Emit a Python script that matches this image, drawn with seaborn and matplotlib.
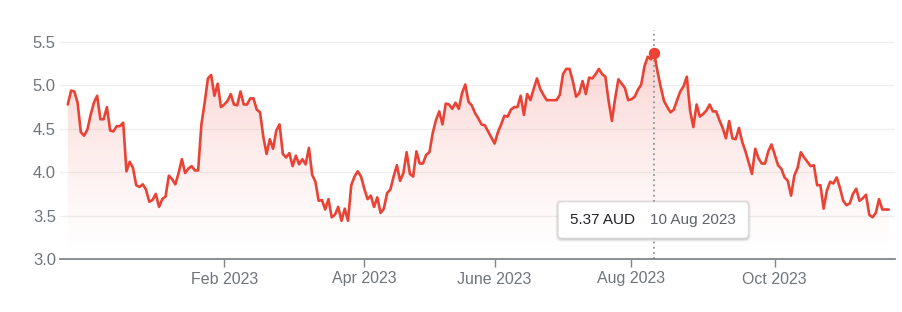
import numpy as np
import pandas as pd
import matplotlib
matplotlib.use("Agg")
import matplotlib.pyplot as plt
from matplotlib.patches import FancyBboxPatch, Polygon
from matplotlib.transforms import IdentityTransform
import seaborn as sns

# ---------------- data ----------------
start_date = "2022-11-21"
asx_holidays = ["2022-12-26", "2022-12-27", "2023-01-02", "2023-01-26",
                "2023-04-07", "2023-04-10", "2023-04-25", "2023-06-12"]
prices = [
    4.78, 4.94, 4.93, 4.80, 4.46, 4.42, 4.49, 4.66, 4.80, 4.88,
    4.61, 4.61, 4.75, 4.48, 4.47, 4.53, 4.53, 4.57, 4.01, 4.12,
    4.05, 3.85, 3.83, 3.86, 3.80, 3.66, 3.68, 3.75, 3.60, 3.69,
    3.72, 3.96, 3.92, 3.86, 3.99, 4.15, 3.99, 4.04, 4.07, 4.02,
    4.02, 4.55, 4.80, 5.08, 5.12, 4.88, 5.02, 4.75, 4.78, 4.82,
    4.90, 4.78, 4.77, 4.93, 4.78, 4.78, 4.85, 4.85, 4.72, 4.69,
    4.41, 4.21, 4.38, 4.27, 4.48, 4.55, 4.21, 4.17, 4.22, 4.07,
    4.19, 4.09, 4.15, 4.09, 4.28, 3.97, 3.89, 3.67, 3.68, 3.57,
    3.69, 3.48, 3.51, 3.60, 3.44, 3.58, 3.44, 3.85, 3.95, 4.01,
    3.95, 3.81, 3.69, 3.73, 3.60, 3.71, 3.53, 3.58, 3.76, 3.80,
    3.95, 4.08, 3.90, 3.99, 4.23, 3.98, 3.95, 4.24, 4.10, 4.10,
    4.20, 4.23, 4.45, 4.60, 4.70, 4.55, 4.79, 4.78, 4.73, 4.80,
    4.73, 4.91, 5.01, 4.81, 4.77, 4.68, 4.62, 4.55, 4.54, 4.47,
    4.40, 4.33, 4.46, 4.55, 4.65, 4.64, 4.72, 4.75, 4.75, 4.88,
    4.66, 4.90, 4.83, 4.96, 5.08, 4.96, 4.89, 4.83, 4.83, 4.83,
    4.83, 4.89, 5.13, 5.19, 5.19, 5.05, 4.87, 4.91, 5.05, 4.90,
    5.09, 5.08, 5.13, 5.19, 5.13, 5.10, 4.82, 4.59, 4.85, 5.07,
    5.02, 4.97, 4.83, 4.84, 4.87, 4.95, 5.01, 5.22, 5.33, 5.30,
    5.37, 5.16, 4.98, 4.82, 4.75, 4.69, 4.72, 4.83, 4.93, 4.99,
    5.10, 4.71, 4.52, 4.78, 4.64, 4.67, 4.71, 4.78, 4.70, 4.70,
    4.60, 4.51, 4.39, 4.59, 4.39, 4.38, 4.51, 4.35, 4.24, 4.11,
    3.98, 4.27, 4.16, 4.10, 4.10, 4.24, 4.32, 4.20, 4.08, 4.04,
    3.94, 3.90, 3.73, 3.96, 4.05, 4.23, 4.17, 4.12, 4.07, 4.08,
    3.85, 3.85, 3.58, 3.79, 3.89, 3.87, 3.94, 3.82, 3.67, 3.62,
    3.64, 3.75, 3.81, 3.67, 3.70, 3.74, 3.51, 3.48, 3.53, 3.69,
    3.57, 3.57, 3.57,
]
tick_months = ["2023-02-01", "2023-04-01", "2023-06-01", "2023-08-01", "2023-10-01"]
tick_labels = ["Feb 2023", "Apr 2023", "June 2023", "Aug 2023", "Oct 2023"]
y_ticks = [3.0, 3.5, 4.0, 4.5, 5.0, 5.5]
highlight_date = "2023-08-10"
currency = "AUD"

# ---------------- styling ----------------
RED = "#ea4335"
GRID = "#efefef"
TXT = "#70757a"

sns.set_theme(style="white")
plt.rcParams["font.family"] = ["Liberation Sans", "DejaVu Sans"]

dates = pd.bdate_range(start=start_date, periods=len(prices), freq="C",
                       holidays=asx_holidays)
df = pd.DataFrame({"day": np.arange(len(prices)), "date": dates, "price": prices})

W, H = 903, 312
fig = plt.figure(figsize=(W / 100, H / 100), dpi=100)
ax = fig.add_axes([60 / W, 53 / H, (895 - 60) / W, (259 - 30) / H])

ylo, yhi = 3.0, 5.638
xlo, xhi = -2.4, len(prices) - 1 + 1.9

# gradient fill under the line
verts = list(zip(df["day"], df["price"])) + [(df["day"].iloc[-1], ylo), (df["day"].iloc[0], ylo)]
poly = Polygon(verts, closed=True, facecolor="none", edgecolor="none")
ax.add_patch(poly)
n = 256
grad = np.zeros((n, 1, 4))
grad[..., :3] = matplotlib.colors.to_rgb(RED)
lev = np.linspace(ylo, yhi, n)
grad[:, 0, 3] = 0.22 * np.clip((lev - ylo) / 2.3, 0, None) ** 1.3
im = ax.imshow(grad, extent=[xlo, xhi, ylo, yhi], origin="lower", aspect="auto", zorder=1)
im.set_clip_path(poly)

# gridlines
for yv in y_ticks[1:]:
    ax.axhline(yv, color=GRID, lw=0.9, zorder=0)

# highlight date
hi_idx = int(np.where(df["date"] == pd.Timestamp(highlight_date))[0][0])
hi_val = df["price"].iloc[hi_idx]
ax.axvline(hi_idx, color="#80868b", lw=1.1, ls=(0, (1.2, 2.2)), zorder=2)

sns.lineplot(data=df, x="day", y="price", color=RED, lw=1.9, ax=ax, zorder=3)
ax.plot([hi_idx], [hi_val], "o", color=RED, ms=7.2, zorder=4, mec=RED)

ax.set_xlim(xlo, xhi)
ax.set_ylim(ylo, yhi)
ax.set_xlabel("")
ax.set_ylabel("")

tick_pos = [int(np.searchsorted(df["date"].values, np.datetime64(m))) for m in tick_months]
ax.set_xticks(tick_pos)
ax.set_xticklabels(tick_labels)
ax.set_yticks(y_ticks)
ax.set_yticklabels([f"{v:.1f}" for v in y_ticks])

ax.tick_params(axis="x", length=5.5, width=1, color="#80868b", pad=3.5,
               labelsize=11.5, labelcolor=TXT, bottom=True)
ax.tick_params(axis="y", length=0, pad=3, labelsize=12, labelcolor=TXT)

for s in ["left", "right", "top"]:
    ax.spines[s].set_visible(False)
ax.spines["bottom"].set_color("#80868b")
ax.spines["bottom"].set_linewidth(1.3)

# tooltip
cx = ax.transData.transform((hi_idx, ylo))[0]
bw, bh = 190, 36
bx, by = cx - bw / 2 - 1, 74
for off, a in [(3, 0.05), (2, 0.07), (1, 0.09)]:
    sh = FancyBboxPatch((bx - off + 0.5, by - off - 0.5), bw + 2 * off - 1, bh + 2 * off - 1 + 0.5,
                        boxstyle="round,pad=0,rounding_size=5", transform=IdentityTransform(),
                        facecolor=(0, 0, 0, a), edgecolor="none", zorder=9)
    fig.add_artist(sh)
box = FancyBboxPatch((bx, by), bw, bh, boxstyle="round,pad=0,rounding_size=4",
                     transform=IdentityTransform(), facecolor="white",
                     edgecolor="#e0e0e0", lw=0.6, zorder=10)
fig.add_artist(box)
d = pd.Timestamp(highlight_date)
fig.text(bx + 12, by + bh / 2, f"{hi_val:.2f} {currency}", transform=IdentityTransform(),
         ha="left", va="center", fontsize=11, color="#202124", zorder=11)
fig.text(bx + 92, by + bh / 2, f"{d.day} {d:%b %Y}", transform=IdentityTransform(),
         ha="left", va="center", fontsize=11, color="#5f6368", zorder=11)

fig.savefig("out.png", dpi=100)
